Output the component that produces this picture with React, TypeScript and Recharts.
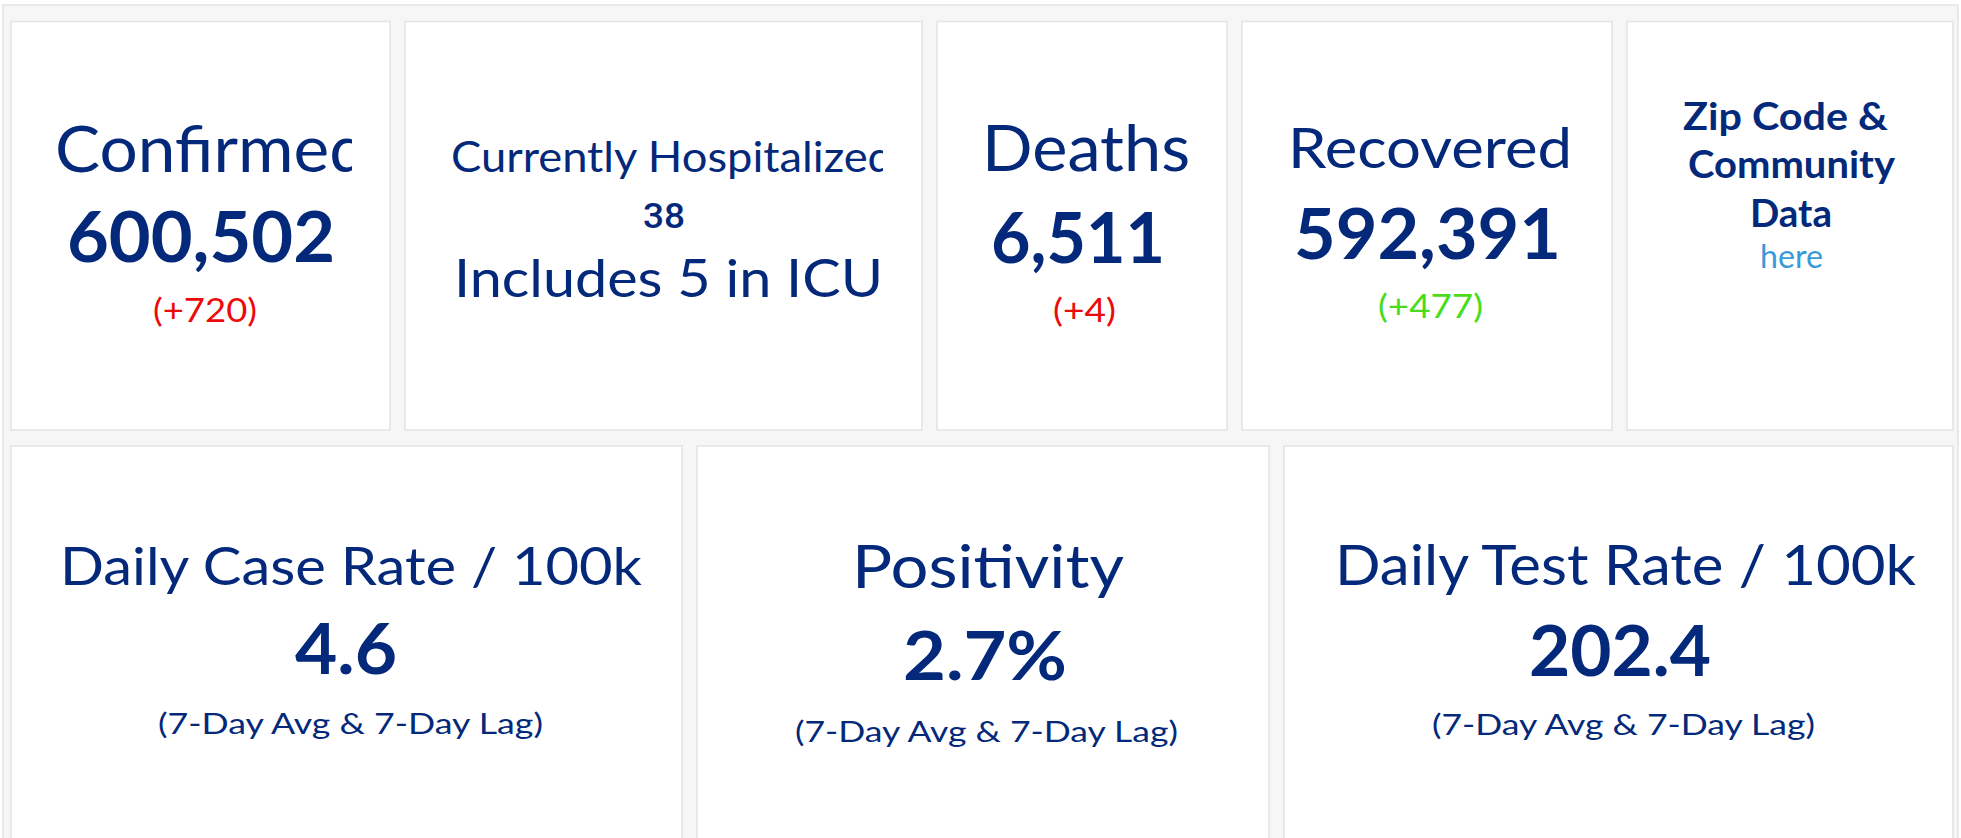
import React from 'react';
import { Surface, Rectangle, Layer } from 'recharts';

// ---------- data ----------
const kpiTitles = ['Confirmed', 'Currently Hospitalized', 'Deaths', 'Recovered'];
const kpiValues = ['600,502', '38', '6,511', '592,391'];
const kpiNotes = ['(+720)', 'Includes 5 in ICU', '(+4)', '(+477)'];
const linkLines = ['Zip Code &', 'Community', 'Data'];
const linkLabel = 'here';
const rateTitles = ['Daily Case Rate / 100k', 'Positivity', 'Daily Test Rate / 100k'];
const rateValues = ['4.6', '2.7%', '202.4'];
const rateNotes = ['(7-Day Avg & 7-Day Lag)', '(7-Day Avg & 7-Day Lag)', '(7-Day Avg & 7-Day Lag)'];

// ---------- layout / style ----------
const W = 1961;
const H = 838;
const NAVY = '#04297a';
const RED = '#ec0a0a';
const GREEN = '#48dc1c';
const BLUE = '#3a9ad8';
const FONT = 'Lato, "Open Sans", sans-serif';

const topCards = [
  { x: 11, w: 379 },
  { x: 405, w: 517 },
  { x: 937, w: 290 },
  { x: 1242, w: 370 },
  { x: 1627, w: 326 },
];
const bottomCards = [
  { x: 11, w: 671 },
  { x: 697, w: 572 },
  { x: 1284, w: 669 },
];

type Spec = { x: number; y: number; len: number; size: number };

const kpiTitleSpec: Spec[] = [
  { x: 55, y: 172, len: 312, size: 64 },
  { x: 451, y: 172, len: 442, size: 42 },
  { x: 982, y: 171, len: 208, size: 64 },
  { x: 1288, y: 168, len: 284, size: 57 },
];
const kpiValueSpec: Spec[] = [
  { x: 67, y: 262, len: 268, size: 71 },
  { x: 643, y: 228, len: 42, size: 35 },
  { x: 991, y: 263, len: 174, size: 71 },
  { x: 1294, y: 259, len: 267, size: 71 },
];
const kpiNoteSpec: Spec[] = [
  { x: 153, y: 322, len: 104, size: 33 },
  { x: 454, y: 297, len: 429, size: 52 },
  { x: 1053, y: 322, len: 63, size: 33 },
  { x: 1378, y: 318, len: 105, size: 33 },
];
const kpiNoteColors = [RED, NAVY, RED, GREEN];
const clipRight = [352, 883, null, null];

const linkSpec: Spec[] = [
  { x: 1683, y: 130, len: 205, size: 38 },
  { x: 1688, y: 178, len: 207, size: 38 },
  { x: 1750, y: 227, len: 82, size: 38 },
];
const linkLabelSpec: Spec = { x: 1760, y: 268, len: 63, size: 33 };

const rateTitleSpec: Spec[] = [
  { x: 60, y: 585, len: 582, size: 53 },
  { x: 852, y: 588, len: 272, size: 60 },
  { x: 1335, y: 585, len: 581, size: 56 },
];
const rateValueSpec: Spec[] = [
  { x: 295, y: 674, len: 102, size: 71 },
  { x: 903, y: 680, len: 164, size: 67 },
  { x: 1529, y: 676, len: 182, size: 70 },
];
const rateNoteSpec: Spec[] = [
  { x: 158, y: 734, len: 385, size: 28 },
  { x: 795, y: 742, len: 383, size: 28 },
  { x: 1432, y: 735, len: 383, size: 28 },
];

const T = ({
  s,
  text,
  color = NAVY,
  weight = 400,
  family = FONT,
  clip,
}: {
  s: Spec;
  text: string;
  color?: string;
  weight?: number;
  family?: string;
  clip?: string;
}) => (
  <text
    x={s.x}
    y={s.y}
    fontSize={s.size}
    fontFamily={family}
    fontWeight={weight}
    fill={color}
    textLength={s.len}
    lengthAdjust="spacingAndGlyphs"
    clipPath={clip ? `url(#${clip})` : undefined}
  >
    {text}
  </text>
);

export default function App() {
  return (
    <div
      style={{
        position: 'fixed',
        left: 0,
        top: 0,
        width: W,
        height: H,
        background: '#ffffff',
        overflow: 'hidden',
      }}
    >
      <Surface width={W} height={H}>
        <defs>
          {clipRight.map((r, i) =>
            r == null ? null : (
              <clipPath id={`clip${i}`} key={i}>
                <rect x={0} y={0} width={r} height={H} />
              </clipPath>
            )
          )}
        </defs>
        <Rectangle x={3} y={5} width={1955} height={H} fill="#f6f6f6" stroke="#e4e4e4" strokeWidth={1.5} />
        <Layer>
          {topCards.map((c, i) => (
            <Rectangle key={`t${i}`} x={c.x} y={21.5} width={c.w} height={408.5} fill="#ffffff" stroke="#e3e3e3" strokeWidth={1.5} />
          ))}
          {bottomCards.map((c, i) => (
            <Rectangle key={`b${i}`} x={c.x} y={446} width={c.w} height={420} fill="#ffffff" stroke="#e3e3e3" strokeWidth={1.5} />
          ))}
        </Layer>
        <Layer>
          {kpiTitles.map((t, i) => (
            <T key={`kt${i}`} s={kpiTitleSpec[i]} text={t} clip={clipRight[i] != null ? `clip${i}` : undefined} />
          ))}
          {kpiValues.map((v, i) =>
            i === 1 ? (
              <T key={`kv${i}`} s={kpiValueSpec[i]} text={v} weight={500} family='Roboto, "Liberation Sans", sans-serif' />
            ) : (
              <T key={`kv${i}`} s={kpiValueSpec[i]} text={v} weight={700} />
            )
          )}
          {kpiNotes.map((n, i) => (
            <T key={`kn${i}`} s={kpiNoteSpec[i]} text={n} color={kpiNoteColors[i]} />
          ))}
          {linkLines.map((l, i) => (
            <T key={`l${i}`} s={linkSpec[i]} text={l} weight={700} />
          ))}
          <T s={linkLabelSpec} text={linkLabel} color={BLUE} />
        </Layer>
        <Layer>
          {rateTitles.map((t, i) => (
            <T key={`rt${i}`} s={rateTitleSpec[i]} text={t} />
          ))}
          {rateValues.map((v, i) => (
            <T key={`rv${i}`} s={rateValueSpec[i]} text={v} weight={700} />
          ))}
          {rateNotes.map((n, i) => (
            <T key={`rn${i}`} s={rateNoteSpec[i]} text={n} />
          ))}
        </Layer>
      </Surface>
    </div>
  );
}
